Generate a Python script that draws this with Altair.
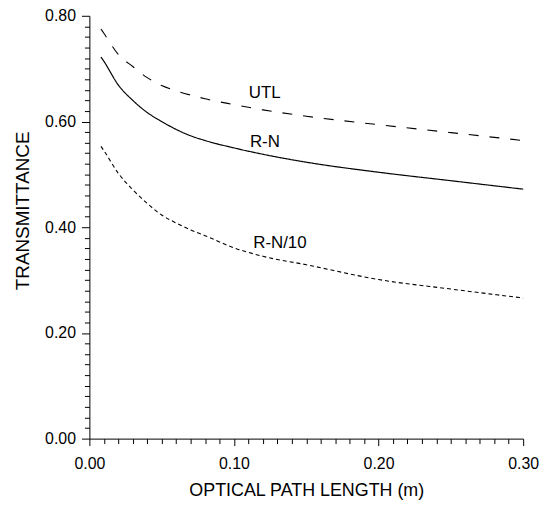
import altair as alt
import pandas as pd

# Optical path length (m)
x_vals = [0.008, 0.01, 0.02, 0.03, 0.04, 0.05, 0.06, 0.07, 0.08, 0.10, 0.12, 0.15, 0.20, 0.25, 0.30]
# Transmittance series
utl = [0.775, 0.767, 0.727, 0.704, 0.683, 0.668, 0.658, 0.650, 0.643, 0.632, 0.622, 0.610, 0.594, 0.579, 0.564]
rn = [0.722, 0.714, 0.669, 0.640, 0.617, 0.600, 0.585, 0.573, 0.564, 0.550, 0.538, 0.523, 0.504, 0.488, 0.472]
rn10 = [0.553, 0.545, 0.502, 0.471, 0.445, 0.423, 0.408, 0.395, 0.384, 0.361, 0.345, 0.329, 0.301, 0.283, 0.266]

series_names = ["UTL", "R-N", "R-N/10"]
series_values = [utl, rn, rn10]

# Curve labels
label_text = ["UTL", "R-N", "R-N/10"]
label_x = [0.1103, 0.1110, 0.1133]
label_y = [0.644, 0.551, 0.361]

x_ticks = [round(i * 0.01, 2) for i in range(31)]
y_ticks = [round(i * 0.02, 2) for i in range(41)]

rows = []
for name, vals in zip(series_names, series_values):
    for xv, yv in zip(x_vals, vals):
        rows.append({"x": xv, "y": yv, "series": name})
df = pd.DataFrame(rows)
labels = pd.DataFrame({"x": label_x, "y": label_y, "text": label_text})

FONT = "Liberation Sans"

x_axis = alt.Axis(
    values=x_ticks,
    tickCount=200,
    labelExpr="round(datum.value*100) % 10 == 0 ? format(datum.value, '.2f') : ''",
    title="OPTICAL PATH LENGTH (m)",
    titleFontSize=18,
    grid=False,
    tickSize={"condition": {"test": "round(datum.value*100) % 10 == 0", "value": 7}, "value": 5},
    labelPadding=10,
    labelFlush=False,
    labelOverlap=False,
    titlePadding=10,
)
y_axis = alt.Axis(
    values=y_ticks,
    tickCount=200,
    labelExpr="round(datum.value*100) % 20 == 0 ? format(datum.value, '.2f') : ''",
    title="TRANSMITTANCE",
    titleFontSize=19,
    titleY=196,
    grid=False,
    tickSize={"condition": {"test": "round(datum.value*100) % 20 == 0", "value": 8}, "value": 5},
    labelPadding=6,
    labelFlush=False,
    labelOverlap=False,
    titlePadding=12,
)

xs = alt.X("x:Q", scale=alt.Scale(domain=[0, 0.30], nice=False, zero=False), axis=x_axis)
ys = alt.Y("y:Q", scale=alt.Scale(domain=[0, 0.80], nice=False), axis=y_axis)

dashes = {"UTL": [10, 11], "R-N": [1, 0], "R-N/10": [4, 3]}
widths = {"UTL": 1.1, "R-N": 1.2, "R-N/10": 1.1}

layers = []
for name in series_names:
    layers.append(
        alt.Chart(df)
        .transform_filter(alt.datum.series == name)
        .mark_line(color="black", strokeDash=dashes[name], strokeWidth=widths[name],
                   interpolate="monotone")
        .encode(x=xs, y=ys)
    )

text_layer = alt.Chart(labels).mark_text(
    align="left", baseline="alphabetic", fontSize=17, font=FONT, color="black"
).encode(x="x:Q", y="y:Q", text="text:N")

chart = (
    alt.layer(*layers, text_layer)
    .properties(
        width=437,
        height=426,
        autosize=alt.AutoSizeParams(type="none"),
        padding={"left": 82, "top": 6, "right": 20, "bottom": 62},
    )
    .configure_view(stroke=None)
    .configure_axis(
        domainColor="black",
        tickColor="black",
        domainWidth=1,
        tickWidth=1,
        labelFont=FONT,
        labelFontSize=16,
        labelColor="black",
        titleFont=FONT,
        titleFontWeight="normal",
        titleColor="black",
    )
)

chart.save("out.html", embed_options={"renderer": "svg", "actions": False})
